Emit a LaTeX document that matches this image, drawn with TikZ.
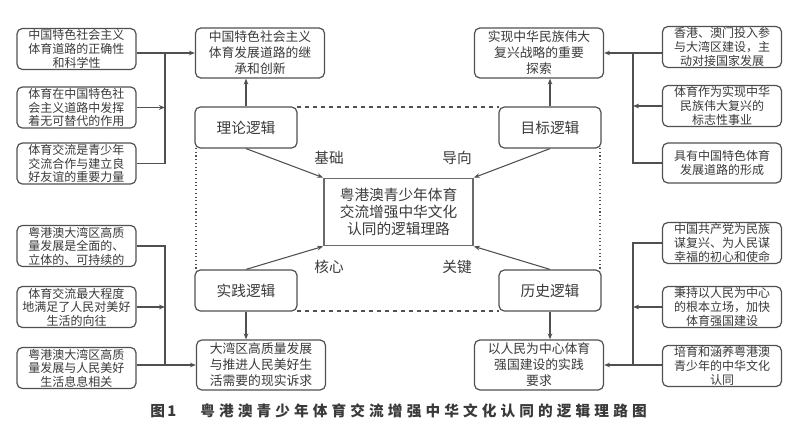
\documentclass[tikz,border=0pt]{standalone}
\usepackage{fontspec}
\setmainfont{Noto Sans CJK SC}
\usetikzlibrary{arrows.meta}
\definecolor{ink}{HTML}{3A3A3A}
\definecolor{ln}{HTML}{505050}
\begin{document}
\begin{tikzpicture}[x=0.75pt,y=-0.75pt,
  sz/.style 2 args={minimum width=#1*0.75pt,minimum height=#2*0.75pt},
  side/.style={draw=ln,line width=0.9pt,rounded corners=4pt,align=center,text=ink,inner sep=1pt,sz={119}{40},font=\fontsize{9}{10.2}\selectfont},
  res/.style={draw=ln,line width=0.9pt,rounded corners=4pt,align=center,text=ink,inner sep=1pt,sz={129}{50},font=\fontsize{9.6}{12}\selectfont},
  logic/.style={draw=ln,line width=0.9pt,rounded corners=4pt,align=center,text=ink,inner sep=1pt,sz={102}{41},font=\fontsize{11}{13}\selectfont},
  core/.style={draw=ln!85,line width=1.3pt,align=center,text=ink,inner sep=1pt,sz={149}{67},font=\fontsize{11}{13}\selectfont},
  lab/.style={text=ink,font=\fontsize{11}{13}\selectfont,inner sep=0pt},
  wire/.style={draw=ln,line width=0.8pt},
  arr/.style={wire,-{Stealth[length=4.5pt,width=3.5pt]}},
  mid/.style={wire,-{Stealth[length=4.5pt,width=3.5pt]}}
]
\useasboundingbox[fill=white] (0,0) rectangle (800,432);

% dashed frame
\draw[ln,line width=0.8pt,dashed] (297,107) -- (499,107);
\draw[ln,line width=0.8pt,dashed] (297,311) -- (499,311);
\draw[ln,line width=0.8pt,dotted] (196,148) -- (196,270);
\draw[ln,line width=0.8pt,dotted] (600,148) -- (600,270);

% logic boxes
\node[logic,fill=white] (Th) at (246,127.5) {理论逻辑};
\node[logic,fill=white] (Go) at (550,127.5) {目标逻辑};
\node[logic,fill=white] (Pr) at (246,290.5) {实践逻辑};
\node[logic,fill=white] (Hi) at (550,290.5) {历史逻辑};

% center
\node[core] (C) at (398.5,212) {粤港澳青少年体育\\交流增强中华文化\\认同的逻辑理路};

% result boxes
\node[res] (T1) at (260,53) {中国特色社会主义\\体育发展道路的继\\承和创新};
\node[res] (T2) at (539,53) {实现中华民族伟大\\复兴战略的重要\\探索};
\node[res] (B1) at (261,365) {大湾区高质量发展\\与推进人民美好生\\活需要的现实诉求};
\node[res] (B2) at (539,365) {以人民为中心体育\\强国建设的实践\\要求};

% side boxes left
\node[side] (L1) at (76.5,49) {中国特色社会主义\\体育道路的正确性\\和科学性};
\node[side] (L2) at (76.5,107.5) {体育在中国特色社\\会主义道路中发挥\\着无可替代的作用};
\node[side] (L3) at (76.5,163.5) {体育交流是青少年\\交流合作与建立良\\好友谊的重要力量};
\node[side] (LB1) at (76.5,246) {粤港澳大湾区高质\\量发展是全面的、\\立体的、可持续的};
\node[side] (LB2) at (76.5,307) {体育交流最大程度\\地满足了人民对美好\\生活的向往};
\node[side] (LB3) at (76.5,368) {粤港澳大湾区高质\\量发展与人民美好\\生活息息相关};

% side boxes right
\node[side] (R1) at (722,47) {香港、澳门投入参\\与大湾区建设，主\\动对接国家发展};
\node[side] (R2) at (722,106) {体育作为实现中华\\民族伟大复兴的\\标志性事业};
\node[side] (R3) at (722,163) {具有中国特色体育\\发展道路的形成};
\node[side] (RB1) at (722,243) {中国共产党为民族\\谋复兴、为人民谋\\幸福的初心和使命};
\node[side] (RB2) at (722,307) {秉持以人民为中心\\的根本立场，加快\\体育强国建设};
\node[side] (RB3) at (722,366) {培育和涵养粤港澳\\青少年的中华文化\\认同};

\coordinate (vl) at (165,0);
\coordinate (vr) at (633,0);

% left top group
\draw[arr] (L1.east |- T1.west) -- (T1.west);
\draw[wire] (vl |- T1.west) -- (vl |- L3.east) -- (L3.east);
\draw[arr] (L2.east) -- (vl |- L2.east);
% left bottom group
\draw[wire] (LB1.east) -- (vl |- LB1.east) -- (vl |- B1.west);
\draw[arr] (LB3.east |- B1.west) -- (B1.west);
\draw[arr] (LB2.east) -- (vl |- LB2.east);
% right top group
\draw[arr] (R1.west |- T2.east) -- (T2.east);
\draw[wire] (vr |- T2.east) -- (vr |- R3.west) -- (R3.west);
\draw[arr] (R2.west) -- (vr |- R2.west);
% right bottom group
\draw[wire] (RB1.west) -- (vr |- RB1.west) -- (vr |- B2.east);
\draw[arr] (RB3.west |- B2.east) -- (B2.east);
\draw[arr] (RB2.west) -- (vr |- RB2.west);

% vertical arrows logic -> results
\draw[arr] (Th.north) -- (Th.north |- T1.south);
\draw[arr] (Go.north) -- (Go.north |- T2.south);
\draw[arr] (Pr.south) -- (Pr.south |- B1.north);
\draw[arr] (Hi.south) -- (Hi.south |- B2.north);

% to center
\draw[mid] (Th.south) -- (C.north west);
\draw[mid] (Go.south) -- (C.north east);
\draw[mid] (Pr.north) -- (C.south west);
\draw[mid] (Hi.north) -- (C.south east);

\node[lab] (l1) at (329,158) {基础};
\node[lab] (l2) at (457,158) {导向};
\node[lab] (l3) at (329,267) {核心};
\node[lab] (l4) at (457,267) {关键};

% caption
\node[text=ink,inner sep=0pt,anchor=west,font=\fontsize{11}{13}\selectfont\bfseries] (cap1) at (150,411) {图\,1};
\node[text=ink,inner sep=0pt,anchor=west,font=\fontsize{11}{13}\selectfont\bfseries\addfontfeatures{LetterSpace=28}] (cap2) at (200,411) {粤港澳青少年体育交流增强中华文化认同的逻辑理路图};
\end{tikzpicture}
\end{document}
